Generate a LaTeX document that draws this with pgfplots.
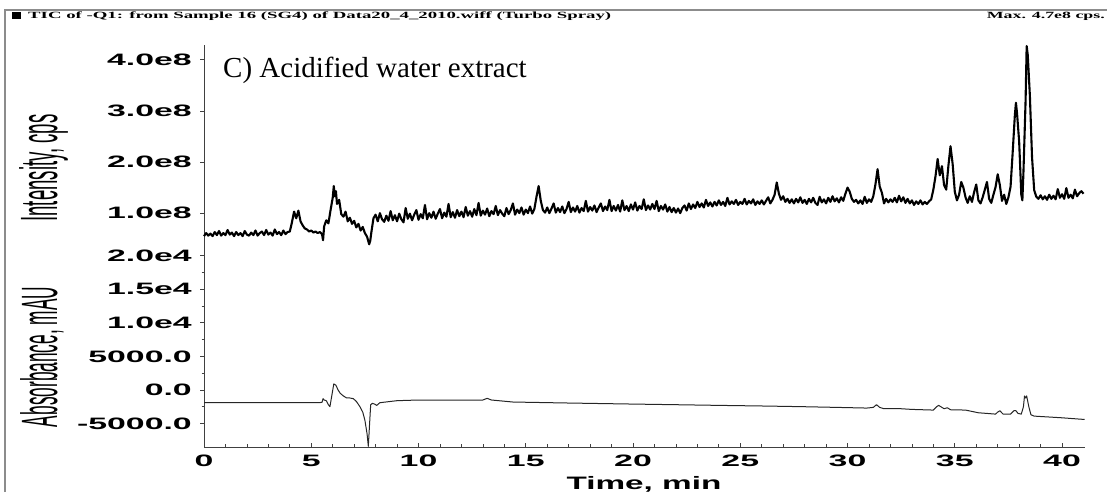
\documentclass[border=0pt]{standalone}
\usepackage{pgfplots}
\pgfplotsset{compat=1.18}
\usepackage{fontspec}
\usepackage{graphicx}
\setmainfont{Liberation Serif}
\newfontfamily\arial{Liberation Sans}
\newcommand\tl[1]{\scalebox{2.05}[1]{#1}}
\begin{document}
\begin{tikzpicture}[x=1pt,y=1pt]
\useasboundingbox (0,0) rectangle (1107,492);
\draw[black!45, line width=1.4pt] (5,0) -- (5,482) -- (1107,482);
\fill (12,473) rectangle (21,480);
\node[anchor=base west, inner sep=0] at (28,473.5) {\resizebox{583pt}{\height}{\fontsize{9.5}{11}\selectfont\bfseries TIC of -Q1: from Sample 16 (SG4) of Data20\_4\_2010.wiff (Turbo Spray)}};
\node[anchor=base east, inner sep=0] at (1105,473.5) {\resizebox{118pt}{\height}{\fontsize{9.5}{11}\selectfont\bfseries Max. 4.7e8 cps.}};

% upper panel: TIC
\begin{axis}[
  at={(204pt,239pt)}, anchor=south west,
  width=881pt, height=208pt, scale only axis,
  xmin=0, xmax=41.07, ymin=0.22, ymax=4.29,
  axis x line=none, axis y line*=left,
  axis line style={black!75, line width=0.8pt},
  ytick={1,2,3,4},
  yticklabels={\tl{1.0e8},\tl{2.0e8},\tl{3.0e8},\tl{4.0e8}},
  ytick align=outside, major tick length=4pt,
  tick style={black!75, line width=0.7pt},
  yticklabel style={font=\arial\bfseries\fontsize{16.5}{18}\selectfont, anchor=east, inner sep=0pt, xshift=-8pt},
  clip=false,
]
\addplot[black, line width=2.1pt, line join=round] coordinates {
(0.0,0.55)(0.1,0.61)(0.2,0.56)(0.3,0.60)(0.4,0.55)(0.5,0.63)(0.6,0.57)(0.7,0.65)(0.8,0.56)(0.9,0.61)
(1.0,0.57)(1.1,0.67)(1.2,0.58)(1.3,0.62)(1.4,0.55)(1.5,0.63)(1.6,0.57)(1.7,0.61)(1.8,0.55)(1.9,0.65)
(2.0,0.58)(2.1,0.56)(2.2,0.62)(2.3,0.57)(2.4,0.66)(2.5,0.56)(2.6,0.61)(2.7,0.64)(2.8,0.57)(2.9,0.67)
(3.0,0.58)(3.1,0.62)(3.2,0.56)(3.3,0.68)(3.4,0.59)(3.5,0.63)(3.6,0.57)(3.7,0.66)(3.8,0.59)(3.9,0.63)
(4.0,0.64)(4.1,0.82)(4.2,1.03)(4.3,0.90)(4.4,1.05)(4.5,0.84)(4.6,0.76)(4.7,0.70)(4.8,0.68)(4.9,0.64)
(5.0,0.66)(5.1,0.62)(5.2,0.64)(5.3,0.61)(5.4,0.63)(5.5,0.59)(5.55,0.47)(5.6,0.74)(5.7,0.86)(5.8,0.80)(5.9,1.06)
(6.0,1.30)(6.05,1.53)(6.1,1.33)(6.15,1.43)(6.2,1.18)(6.3,1.26)(6.4,0.98)(6.5,0.93)(6.6,1.03)(6.7,0.84)(6.8,0.91)(6.9,0.79)
(7.0,0.85)(7.1,0.72)(7.2,0.79)(7.3,0.66)(7.4,0.73)(7.5,0.61)(7.6,0.54)(7.7,0.39)(7.75,0.46)(7.8,0.62)(7.9,0.90)
(8.0,0.97)(8.1,0.84)(8.2,1.00)(8.3,0.88)(8.4,0.83)(8.5,0.95)(8.6,0.85)(8.7,1.04)(8.8,0.86)(8.9,0.96)
(9.0,0.84)(9.1,0.99)(9.2,0.88)(9.3,0.82)(9.4,1.10)(9.5,0.89)(9.6,0.99)(9.7,0.86)(9.8,0.97)(9.9,1.06)
(10.0,0.87)(10.1,0.98)(10.2,0.90)(10.3,1.16)(10.4,0.88)(10.5,1.00)(10.6,0.91)(10.7,1.03)(10.8,0.89)(10.9,0.99)
(11.0,1.08)(11.1,0.90)(11.2,1.01)(11.3,0.93)(11.4,1.18)(11.5,0.92)(11.6,1.02)(11.7,0.91)(11.8,1.06)(11.9,0.94)
(12.0,1.03)(12.1,0.92)(12.2,1.12)(12.3,0.95)(12.4,1.04)(12.5,0.93)(12.6,1.08)(12.7,0.96)(12.8,1.20)(12.9,0.95)
(13.0,1.05)(13.1,0.97)(13.2,1.09)(13.3,0.94)(13.4,1.04)(13.5,0.98)(13.6,1.14)(13.7,0.96)(13.8,1.06)(13.9,0.99)
(14.0,0.94)(14.1,1.10)(14.2,0.98)(14.3,1.06)(14.4,1.19)(14.5,0.97)(14.6,1.07)(14.7,1.00)(14.8,1.11)(14.9,0.97)
(15.0,1.07)(15.1,1.00)(15.2,1.13)(15.3,0.99)(15.4,1.08)(15.5,1.32)(15.6,1.53)(15.7,1.24)(15.8,1.06)(15.9,1.01)
(16.0,1.11)(16.1,1.00)(16.2,1.09)(16.3,1.19)(16.4,1.01)(16.5,1.10)(16.6,1.02)(16.7,1.13)(16.8,1.00)(16.9,1.08)
(17.0,1.22)(17.1,1.02)(17.2,1.11)(17.3,1.03)(17.4,1.14)(17.5,1.01)(17.6,1.10)(17.7,1.04)(17.8,1.24)(17.9,1.03)
(18.0,1.12)(18.1,1.05)(18.2,1.15)(18.3,1.02)(18.4,1.11)(18.5,1.19)(18.6,1.04)(18.7,1.13)(18.8,1.06)(18.9,1.26)
(19.0,1.04)(19.1,1.14)(19.2,1.05)(19.3,1.16)(19.4,1.03)(19.5,1.25)(19.6,1.06)(19.7,1.14)(19.8,1.04)(19.9,1.17)
(20.0,1.07)(20.1,1.21)(20.2,1.05)(20.3,1.14)(20.4,1.08)(20.5,1.27)(20.6,1.06)(20.7,1.15)(20.8,1.07)(20.9,1.18)
(21.0,1.08)(21.1,1.24)(21.2,1.04)(21.3,1.14)(21.4,1.07)(21.5,1.17)(21.6,1.03)(21.7,1.12)(21.8,1.02)(21.9,1.10)
(22.0,1.01)(22.1,1.09)(22.2,1.00)(22.3,1.10)(22.4,1.15)(22.5,1.05)(22.6,1.19)(22.7,1.08)(22.8,1.17)(22.9,1.10)
(23.0,1.22)(23.1,1.12)(23.2,1.19)(23.3,1.11)(23.4,1.26)(23.5,1.14)(23.6,1.21)(23.7,1.13)(23.8,1.22)(23.9,1.15)
(24.0,1.25)(24.1,1.16)(24.2,1.22)(24.3,1.14)(24.4,1.30)(24.5,1.17)(24.6,1.23)(24.7,1.18)(24.8,1.26)(24.9,1.16)
(25.0,1.22)(25.1,1.18)(25.2,1.28)(25.3,1.17)(25.4,1.24)(25.5,1.19)(25.6,1.27)(25.7,1.16)(25.8,1.23)(25.9,1.18)
(26.0,1.25)(26.1,1.17)(26.2,1.24)(26.3,1.31)(26.4,1.19)(26.5,1.26)(26.6,1.36)(26.7,1.60)(26.8,1.38)(26.9,1.26)
(27.0,1.33)(27.1,1.22)(27.2,1.28)(27.3,1.20)(27.4,1.27)(27.5,1.19)(27.6,1.28)(27.7,1.21)(27.8,1.31)(27.9,1.20)
(28.0,1.26)(28.1,1.18)(28.2,1.28)(28.3,1.21)(28.4,1.30)(28.5,1.20)(28.6,1.16)(28.7,1.32)(28.8,1.21)(28.9,1.27)
(29.0,1.19)(29.1,1.30)(29.2,1.22)(29.3,1.33)(29.4,1.23)(29.5,1.29)(29.6,1.21)(29.7,1.31)(29.8,1.24)(29.9,1.38)
(30.0,1.50)(30.1,1.42)(30.2,1.28)(30.3,1.22)(30.4,1.26)(30.5,1.19)(30.6,1.25)(30.7,1.18)(30.8,1.32)(30.9,1.20)
(31.0,1.27)(31.1,1.22)(31.2,1.33)(31.3,1.56)(31.4,1.86)(31.5,1.52)(31.6,1.40)(31.7,1.19)(31.8,1.28)(31.9,1.21)
(32.0,1.27)(32.1,1.22)(32.2,1.30)(32.3,1.21)(32.4,1.34)(32.5,1.23)(32.6,1.31)(32.7,1.20)(32.8,1.28)(32.9,1.19)
(33.0,1.25)(33.1,1.16)(33.2,1.23)(33.3,1.18)(33.4,1.25)(33.5,1.17)(33.6,1.22)(33.7,1.18)(33.8,1.23)(33.9,1.27)
(34.0,1.46)(34.1,1.72)(34.2,2.06)(34.3,1.74)(34.4,1.92)(34.5,1.55)(34.6,1.46)(34.7,1.92)(34.8,2.31)(34.9,1.96)
(35.0,1.42)(35.1,1.25)(35.2,1.36)(35.3,1.61)(35.4,1.50)(35.5,1.31)(35.6,1.20)(35.7,1.33)(35.8,1.22)(35.9,1.41)
(36.0,1.56)(36.1,1.25)(36.2,1.19)(36.3,1.31)(36.4,1.46)(36.5,1.61)(36.6,1.28)(36.7,1.20)(36.8,1.36)(36.9,1.51)
(37.0,1.76)(37.1,1.55)(37.2,1.24)(37.3,1.36)(37.4,1.18)(37.5,1.31)(37.6,1.52)(37.7,2.20)(37.8,2.92)(37.85,3.16)(37.9,2.96)
(38.0,2.40)(38.1,1.36)(38.15,1.25)(38.2,1.80)(38.3,3.20)(38.35,4.27)(38.4,4.10)(38.5,3.30)(38.6,2.10)(38.7,1.45)(38.8,1.32)(38.9,1.28)
(39.0,1.35)(39.1,1.27)(39.2,1.33)(39.3,1.26)(39.4,1.36)(39.5,1.28)(39.6,1.34)(39.7,1.27)(39.8,1.47)(39.9,1.30)
(40.0,1.37)(40.1,1.28)(40.2,1.49)(40.3,1.30)(40.4,1.36)(40.5,1.29)(40.6,1.46)(40.7,1.33)(40.8,1.39)(40.9,1.43)(41.0,1.38)
};
\end{axis}

% lower panel: UV
\begin{axis}[
  at={(204pt,45pt)}, anchor=south west,
  width=881pt, height=194pt, scale only axis,
  xmin=0, xmax=41.07, ymin=-8.5, ymax=20.4,
  axis x line*=bottom, axis y line*=left,
  axis line style={black!75, line width=0.8pt},
  xtick={0,5,10,15,20,25,30,35,40},
  xticklabels={\tl{0},\tl{5},\tl{10},\tl{15},\tl{20},\tl{25},\tl{30},\tl{35},\tl{40}},
  minor x tick num=4,
  xtick align=inside,
  ytick={-5,0,5,10,15,20},
  yticklabels={\tl{-5000.0},\tl{0.0},\tl{5000.0},\tl{1.0e4},\tl{1.5e4},\tl{2.0e4}},
  minor y tick num=1,
  ytick align=outside,
  major tick length=4pt, minor tick length=2.5pt,
  tick style={black!75, line width=0.7pt},
  yticklabel style={font=\arial\bfseries\fontsize{16.5}{18}\selectfont, anchor=east, inner sep=0pt, xshift=-8pt},
  xticklabel style={font=\arial\bfseries\fontsize{16.5}{18}\selectfont, anchor=north, inner sep=0pt, yshift=-8pt},
  clip=false,
]
\addplot[black!85, line width=1.0pt, line join=round] coordinates {
(0,-1.90)(5.4,-1.88)(5.5,-1.85)(5.55,-1.3)(5.6,-1.5)(5.7,-1.6)(5.8,-2.2)(5.87,-2.5)(5.95,-1.0)
(6.05,0.9)(6.15,0.7)(6.25,0.0)(6.35,-0.5)(6.5,-0.9)(6.65,-1.2)(6.8,-1.2)(6.96,-1.3)(7.1,-1.7)
(7.27,-2.5)(7.4,-3.3)(7.5,-4.5)(7.6,-6.5)(7.66,-8.4)(7.72,-5.0)(7.77,-2.2)(7.85,-2.0)(7.95,-2.1)
(8.05,-2.3)(8.2,-1.9)(9.0,-1.6)(10,-1.5)(12,-1.5)(13.0,-1.5)(13.2,-1.25)(13.4,-1.5)(14.4,-1.8)
(17,-1.95)(19.9,-2.1)(22,-2.2)(24,-2.3)(26.2,-2.4)(28,-2.5)(29.5,-2.6)(30.9,-2.7)(31.2,-2.6)
(31.35,-2.2)(31.5,-2.6)(31.7,-2.8)(32.5,-2.8)(33,-2.9)(34.0,-3.0)(34.15,-2.5)(34.25,-2.3)(34.4,-2.6)
(34.5,-2.8)(34.65,-2.65)(34.8,-2.95)(35.5,-3.0)(35.8,-3.2)(36.1,-3.4)(36.9,-3.6)(37.0,-3.3)(37.1,-3.1)
(37.25,-3.6)(37.6,-3.6)(37.75,-3.1)(37.85,-3.1)(37.95,-3.5)(38.1,-3.6)(38.2,-2.5)(38.25,-0.9)(38.3,-1.2)
(38.35,-0.9)(38.45,-2.5)(38.55,-3.7)(38.7,-3.9)(40,-4.15)(41.05,-4.4)
};
\end{axis}

\node[anchor=base west, inner sep=0] at (223,414) {\fontsize{29}{34}\selectfont C) Acidified water extract};
\node[rotate=90, anchor=base, inner sep=0] at (57,324) {\resizebox{107pt}{38pt}{\arial Intensity, cps}};
\node[rotate=90, anchor=base, inner sep=0] at (57,135) {\resizebox{140pt}{37pt}{\arial Absorbance, mAU}};
\node[anchor=base, inner sep=0] at (644,2) {\arial\bfseries\fontsize{18}{20}\selectfont\scalebox{1.85}[1]{Time, min}};
\end{tikzpicture}
\end{document}
